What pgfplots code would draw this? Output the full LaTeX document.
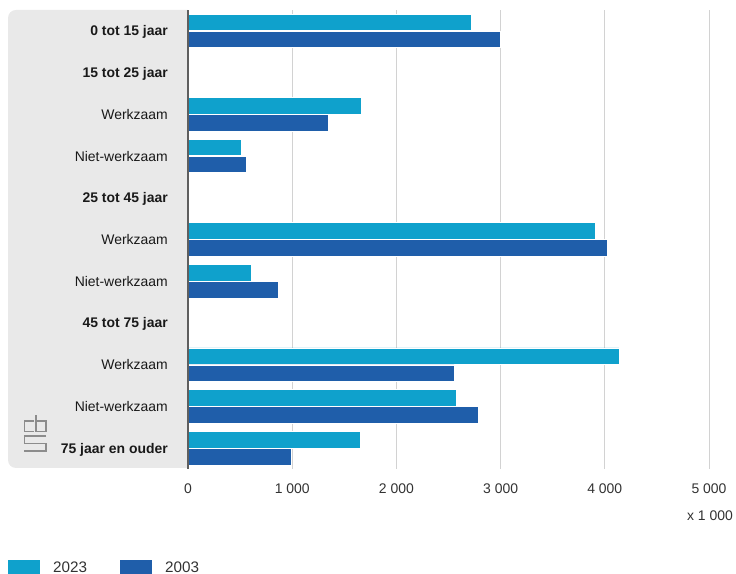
\documentclass[border=0pt]{standalone}
\usepackage{fontspec}
\setmainfont{Liberation Sans}
\usepackage{pgfplots}
\pgfplotsset{compat=1.18}
\definecolor{c2023}{RGB}{15,161,204}
\definecolor{c2003}{RGB}{31,94,170}
\definecolor{panel}{RGB}{233,233,233}
\definecolor{gridc}{RGB}{210,210,210}
\definecolor{logoc}{RGB}{140,140,140}
\definecolor{tickc}{RGB}{50,50,50}
\definecolor{labc}{RGB}{25,25,25}
\definecolor{axc}{RGB}{95,95,95}
\newcommand{\lf}{\fontsize{14}{16}\selectfont}
\newcommand{\gf}{\fontsize{15.3}{17}\selectfont}
\begin{document}
\begin{tikzpicture}[x=1bp,y=1bp]
\useasboundingbox (0,0) rectangle (736,574);
\fill[panel] (188,106) -- (188,564) -- (16,564) arc[start angle=90,end angle=180,radius=8] -- (8,114) arc[start angle=180,end angle=270,radius=8] -- cycle;
\begin{scope}[draw=logoc, line width=1.1bp, double=panel, double distance=1.1bp]
\draw (34,153) -- (24.5,153) -- (24.5,142.5) -- (34,142.5);
\draw (36,158.5) -- (36,142.5) -- (46,142.5) -- (46,153) -- (36,153);
\draw (46,138) -- (24.5,138) -- (24.5,130.5) -- (46,130.5) -- (46,123) -- (24,123);
\end{scope}
\node[anchor=east, inner sep=0pt, font=\lf, text=tickc] at (733,58) {x 1 000};
\begin{axis}[
  at={(188bp,105bp)}, anchor=south west,
  scale only axis, width=521bp, height=459bp,
  xmin=0, xmax=5000, ymin=-0.5, ymax=10.5,
  clip=false,
  xbar, bar width=16.5bp,
  axis line style={draw=none},
  major tick length=0pt,
  xtick={0,1000,2000,3000,4000,5000},
  xticklabels={0,1 000,2 000,3 000,4 000,5 000},
  ytick={0,1,2,3,4,5,6,7,8,9,10},
  yticklabels={\textbf{75 jaar en ouder},Niet-werkzaam,Werkzaam,\textbf{45 tot 75 jaar},Niet-werkzaam,Werkzaam,\textbf{25 tot 45 jaar},Niet-werkzaam,Werkzaam,\textbf{15 tot 25 jaar},\textbf{0 tot 15 jaar}},
  xmajorgrids, grid style={gridc, line width=1bp},
  xticklabel style={font=\lf, text=tickc, inner sep=0pt, anchor=north, text height=10bp, text depth=0pt, yshift=-14bp},
  yticklabel style={font=\lf, text=labc, inner sep=0pt, anchor=east, text height=10bp, text depth=0pt, xshift=-20bp},
  legend style={at={(axis description cs:-0.3455,-0.197)}, anchor=north west, draw=none, fill=none, inner sep=0pt, font=\gf, text=tickc, nodes={inner sep=0pt, text height=11bp, text depth=0pt}, legend columns=2,
    /tikz/every odd column/.append style={column sep=13bp},
    /tikz/every even column/.append style={column sep=33bp}},
  legend image code/.code={\fill[#1, draw=none] (0bp,-7bp) rectangle (32bp,7bp);},
]
\addplot[fill=c2023, draw=white, line width=0.6bp, bar shift=8.5bp] coordinates {(2720,10) (1660,8) (509,7) (3913,5) (605,4) (4136,2) (2578,1) (1651,0)};
\addplot[fill=c2003, draw=white, line width=0.6bp, bar shift=-8.5bp] coordinates {(3000,10) (1350,8) (557,7) (4024,5) (867,4) (2553,2) (2790,1) (989,0)};
\legend{2023,2003}
\draw[axc, line width=2bp] (axis cs:0,-0.5) -- (axis cs:0,10.5);
\end{axis}
\end{tikzpicture}
\end{document}
